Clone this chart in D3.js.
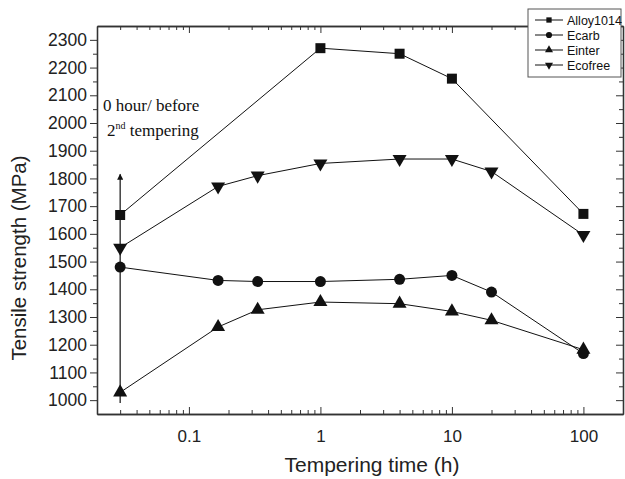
<!DOCTYPE html>
<html><head><meta charset="utf-8">
<script src="https://cdn.jsdelivr.net/npm/d3@7"></script>
<style>body{margin:0;background:#fff}svg{display:block}</style>
</head><body>
<script>
const times = [0.03, 0.1667, 0.3333, 1, 4, 10, 20, 100];
const alloyTimes = [0.03, 1, 4, 10, 100];
const alloy1014 = [1668, 2270, 2250, 2160, 1672];
const ecarb = [1480, 1432, 1428, 1428, 1436, 1450, 1390, 1168];
const einter = [1028, 1264, 1326, 1354, 1348, 1320, 1288, 1182];
const ecofree = [1550, 1771, 1810, 1854, 1870, 1870, 1825, 1596];
const seriesNames = ["Alloy1014", "Ecarb", "Einter", "Ecofree"];
const yTicks = [1000,1100,1200,1300,1400,1500,1600,1700,1800,1900,2000,2100,2200,2300];
const xTickLabels = ["0.1", "1", "10", "100"];
const arrowRange = [990, 1815];

const W = 625, H = 479;
const L = 97, R = 623, T = 26, B = 414;
const svg = d3.select("body").append("svg").attr("width", W).attr("height", H);
const x = d3.scaleLog().domain([0.02, 200]).range([L, R]);
const y = d3.scaleLinear().domain([950, 2350]).range([B, T]);
const axisCol = "#333";
const sans = "Liberation Sans, Arial, sans-serif";

const xMajor = xTickLabels.map(Number);
const xMinor = [];
[0.01, 0.1, 1, 10, 100].forEach(d => { for (let k = 2; k <= 9; k++) { const v = d * k; if (v > 0.02 && v < 200) xMinor.push(v); } });
const yMinor = d3.range(950, 2351, 50).filter(v => v % 100 !== 0 && v > 950 && v < 2350);

// bottom axis (ticks inward)
const gB = svg.append("g").attr("transform", `translate(0,${B})`);
gB.call(d3.axisBottom(x).tickValues(xMajor).tickFormat((d,i)=>xTickLabels[i]).tickSizeInner(-7).tickSizeOuter(0).tickPadding(16));
gB.append("g").call(d3.axisBottom(x).tickValues(xMinor).tickFormat("").tickSizeInner(-4).tickSizeOuter(0));
// top axis
const gT = svg.append("g").attr("transform", `translate(0,${T})`);
gT.call(d3.axisTop(x).tickValues(xMajor).tickFormat("").tickSizeInner(-7).tickSizeOuter(0));
gT.append("g").call(d3.axisTop(x).tickValues(xMinor).tickFormat("").tickSizeInner(-4).tickSizeOuter(0));
// left axis (ticks outward)
const gL = svg.append("g").attr("transform", `translate(${L},0)`);
gL.call(d3.axisLeft(y).tickValues(yTicks).tickFormat(d3.format("d")).tickSizeInner(7).tickSizeOuter(0).tickPadding(3));
gL.append("g").call(d3.axisLeft(y).tickValues(yMinor).tickFormat("").tickSizeInner(4).tickSizeOuter(0));
// right axis (ticks inward)
const gR = svg.append("g").attr("transform", `translate(${R},0)`);
gR.call(d3.axisRight(y).tickValues(yTicks).tickFormat("").tickSizeInner(-7).tickSizeOuter(0));
gR.append("g").call(d3.axisRight(y).tickValues(yMinor).tickFormat("").tickSizeInner(-4).tickSizeOuter(0));

svg.selectAll(".domain").attr("stroke", axisCol).attr("stroke-width", 1.3);
svg.selectAll(".tick line").attr("stroke", axisCol).attr("stroke-width", 1);
svg.selectAll(".tick text").attr("font-family", sans).attr("fill", "#222");
gB.selectAll(".tick text").attr("font-size", 17);
gL.selectAll(".tick text").attr("font-size", 17.5);

// axis titles
svg.append("text").attr("x", 372).attr("y", 472).attr("text-anchor", "middle")
  .attr("font-family", sans).attr("font-size", 21).attr("fill", "#222").text("Tempering time (h)");
svg.append("text").attr("transform", `translate(26,258) rotate(-90)`).attr("text-anchor", "middle")
  .attr("font-family", sans).attr("font-size", 20.5).attr("fill", "#222").text("Tensile strength (MPa)");

// arrow
const defs = svg.append("defs");
defs.append("marker").attr("id", "ah").attr("viewBox", "0 0 10 10").attr("refX", 9).attr("refY", 5)
  .attr("markerWidth", 12).attr("markerHeight", 6).attr("orient", "auto").attr("markerUnits", "userSpaceOnUse")
  .append("path").attr("d", "M0,0 L10,5 L0,10 z").attr("fill", "#111");
svg.append("line").attr("x1", x(times[0])).attr("x2", x(times[0])).attr("y1", y(arrowRange[0])).attr("y2", y(arrowRange[1]))
  .attr("stroke", "#111").attr("stroke-width", 1.2).attr("marker-end", "url(#ah)");

// series
const sym = {
  "Alloy1014": d3.symbol().type(d3.symbolSquare).size(100),
  "Ecarb": d3.symbol().type(d3.symbolCircle).size(95),
  "Einter": d3.symbol().type(d3.symbolTriangle).size(85),
  "Ecofree": d3.symbol().type(d3.symbolTriangle).size(85)
};
const series = [
  {name: "Alloy1014", xs: alloyTimes, ys: alloy1014},
  {name: "Ecarb", xs: times, ys: ecarb},
  {name: "Einter", xs: times, ys: einter},
  {name: "Ecofree", xs: times, ys: ecofree}
];
const line = d3.line().x(d => x(d[0])).y(d => y(d[1]));
series.forEach(s => {
  const pts = s.xs.map((t, i) => [t, s.ys[i]]);
  svg.append("path").attr("d", line(pts)).attr("fill", "none").attr("stroke", "#111").attr("stroke-width", 1);
  svg.selectAll(null).data(pts).enter().append("path")
    .attr("d", sym[s.name]())
    .attr("transform", d => `translate(${x(d[0])},${y(d[1])})${s.name === "Ecofree" ? " rotate(180)" : ""}`)
    .attr("fill", "#111");
});

// annotation
const ann = svg.append("g").attr("font-family", "Liberation Serif, Times New Roman, serif").attr("font-size", 17).attr("fill", "#111");
ann.append("text").attr("x", 103).attr("y", 111).text("0 hour/ before");
const t2 = ann.append("text").attr("x", 107).attr("y", 136);
t2.append("tspan").text("2");
t2.append("tspan").attr("font-size", 10).attr("dy", -7).text("nd");
t2.append("tspan").attr("dy", 7).text(" tempering");

// legend
const lg = svg.append("g");
lg.append("rect").attr("x", 528).attr("y", 9).attr("width", 93).attr("height", 68)
  .attr("fill", "#fff").attr("stroke", "#555").attr("stroke-width", 1);
seriesNames.forEach((n, i) => {
  const yy = 20 + i * 15;
  lg.append("line").attr("x1", 535).attr("x2", 563).attr("y1", yy).attr("y2", yy).attr("stroke", "#111").attr("stroke-width", 1);
  lg.append("path").attr("d", d3.symbol().type(n === "Ecarb" ? d3.symbolCircle : n === "Alloy1014" ? d3.symbolSquare : d3.symbolTriangle).size(n === "Ecarb" ? 30 : 28)())
    .attr("transform", `translate(549,${yy})${n === "Ecofree" ? " rotate(180)" : ""}`).attr("fill", "#111");
  lg.append("text").attr("x", 567).attr("y", yy + 4.5).attr("font-family", sans)
    .attr("font-size", 12.5).attr("fill", "#111").text(n);
});
</script>
</body></html>
